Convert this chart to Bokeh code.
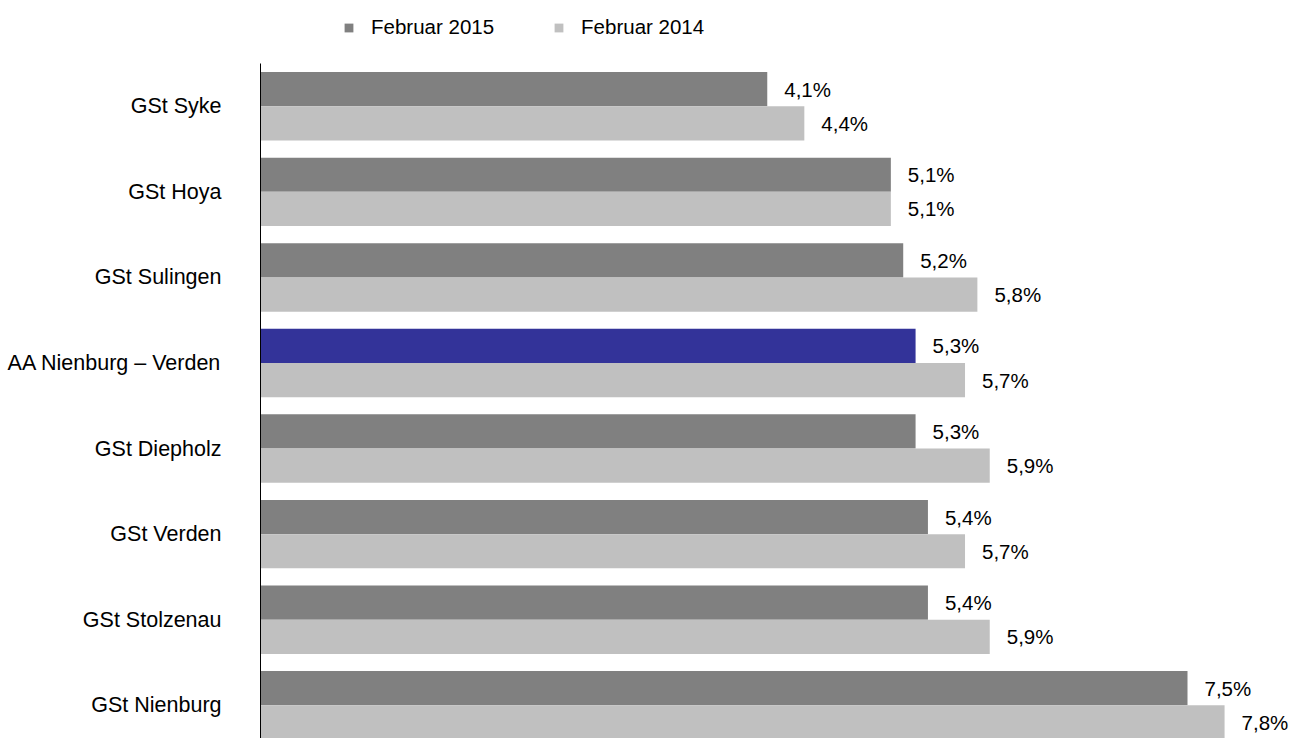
from bokeh.plotting import figure
from bokeh.models import ColumnDataSource, Range1d, FixedTicker, Legend, LegendItem
from bokeh.core.properties import value
from bokeh.embed import file_html
from bokeh.resources import INLINE

categories = ["GSt Syke", "GSt Hoya", "GSt Sulingen", "AA Nienburg – Verden",
              "GSt Diepholz", "GSt Verden", "GSt Stolzenau", "GSt Nienburg"]
feb2015 = [4.1, 5.1, 5.2, 5.3, 5.3, 5.4, 5.4, 7.5]
feb2014 = [4.4, 5.1, 5.8, 5.7, 5.9, 5.7, 5.9, 7.8]
series_names = ["Februar 2015", "Februar 2014"]
highlight = "AA Nienburg – Verden"

FONT = "Liberation Sans"
FS = "20.5px"
DARK = "#808080"
LIGHT = "#C0C0C0"
BLUE = "#333399"

def fmt(v):
    return f"{v:.1f}%".replace(".", ",")

idx = list(range(len(categories)))
src15 = ColumnDataSource(dict(
    y=[i - 0.2 for i in idx], v=feb2015,
    c=[BLUE if c == highlight else DARK for c in categories],
    t=[fmt(v) for v in feb2015]))
src14 = ColumnDataSource(dict(
    y=[i + 0.2 for i in idx], v=feb2014,
    c=[LIGHT for _ in categories],
    t=[fmt(v) for v in feb2014]))

PX = 85.57
p = figure(width=1298, height=738, output_backend="svg", toolbar_location=None,
           x_range=Range1d(0, 1030 / 123.6),
           y_range=Range1d(-0.5 + 675 / PX, -0.5 - 63 / PX),
           x_axis_location=None, min_border_left=260, min_border_right=8,
           min_border_top=0, min_border_bottom=0)
p.outline_line_color = None
p.grid.visible = False

r15 = p.hbar(y="y", right="v", left=0, height=0.4, source=src15,
             fill_color="c", line_color=None)
r14 = p.hbar(y="y", right="v", left=0, height=0.4, source=src14,
             fill_color="c", line_color=None)

for s in (src15, src14):
    p.text(x="v", y="y", text="t", source=s, x_offset=17,
           text_font=value(FONT), text_font_size=FS, text_color="black",
           text_baseline="middle", text_align="left")

ax = p.yaxis[0]
ax.ticker = FixedTicker(ticks=idx)
ax.bounds = (-0.5, -0.5 + 675 / PX)
ax.major_label_overrides = {i: c for i, c in enumerate(categories)}
ax.major_tick_line_color = None
ax.minor_tick_line_color = None
ax.axis_line_color = "black"
ax.axis_line_width = 1
ax.major_label_standoff = 33
ax.major_label_text_font = FONT
ax.major_label_text_font_size = "21.5px"
ax.major_label_text_color = "black"

legend = Legend(items=[LegendItem(label=series_names[0], renderers=[r15], index=0),
                       LegendItem(label=series_names[1], renderers=[r14], index=0)],
                orientation="horizontal", location=(83, 699),
                glyph_width=11, glyph_height=11, label_standoff=17, spacing=59,
                padding=0, margin=0, border_line_color=None,
                label_text_font=FONT, label_text_font_size=FS,
                label_text_color="black", background_fill_alpha=0)
p.add_layout(legend, "center")

open("out.html", "w").write(file_html(p, INLINE))
